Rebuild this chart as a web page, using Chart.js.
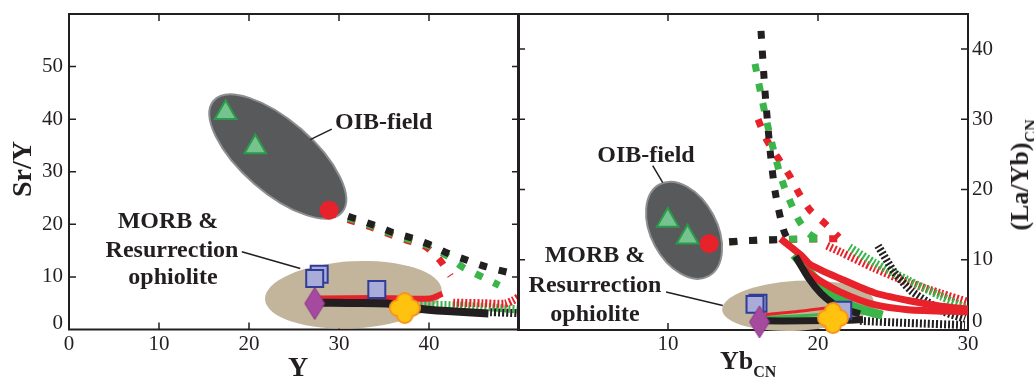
<!DOCTYPE html>
<html>
<head>
<meta charset="utf-8">
<script src="https://cdn.jsdelivr.net/npm/chart.js@4.4.1/dist/chart.umd.min.js"></script>
<style>
  html, body { margin: 0; padding: 0; background: #fff; }
  #wrap { position: relative; width: 1034px; height: 381px; overflow: hidden; background: #fff; }
  canvas { position: absolute; top: 0; }
  #leftChart { left: 0; }
  #rightChart { left: 510px; }
  .lbl { position: absolute; font-family: 'Liberation Serif', 'Times New Roman', serif; font-weight: bold;
         color: #231f20; white-space: nowrap; line-height: 1; }
  .note { font-size: 24px; }
  .ctr { transform: translateX(-50%); }
  .axis { font-size: 28px; }
  .sub { position: relative; top: 8px; font-size: 16px; }
</style>
</head>
<body>
<div id="wrap">
  <canvas id="leftChart" width="530" height="381"></canvas>
  <canvas id="rightChart" width="524" height="381"></canvas>

  <!-- axis titles -->
  <div class="lbl axis" style="left:22px; top:169px; transform: translate(-50%,-50%) rotate(-90deg);">Sr/Y</div>
  <div class="lbl axis ctr" style="left:298px; top:353px;">Y</div>
  <div class="lbl" style="left:720px; top:348px; font-size:26px;">Yb<span class="sub">CN</span></div>
  <div class="lbl" style="left:1020px; top:175px; font-size:26px; transform: translate(-50%,-50%) rotate(-90deg);">(La/Yb)<span class="sub">CN</span></div>

  <!-- field labels, left panel -->
  <div class="lbl note" style="left:335px; top:109px;">OIB-field</div>
  <div class="lbl note ctr" style="left:168px; top:208px;">MORB &amp;</div>
  <div class="lbl note ctr" style="left:172px; top:237px;">Resurrection</div>
  <div class="lbl note ctr" style="left:173px; top:264px;">ophiolite</div>

  <!-- field labels, right panel -->
  <div class="lbl note ctr" style="left:646px; top:142px;">OIB-field</div>
  <div class="lbl note ctr" style="left:595px; top:242px;">MORB &amp;</div>
  <div class="lbl note ctr" style="left:595px; top:272px;">Resurrection</div>
  <div class="lbl note ctr" style="left:595px; top:301px;">ophiolite</div>
</div>

<script>
const FONT = "'Liberation Serif', 'Times New Roman', serif";
const RED = '#e8222a', GREEN = '#39b54a', BLACK = '#231f20';

// ---------- left panel: Sr/Y vs Y ----------
const leftXTicks = [0, 10, 20, 30, 40];
const leftYTicks = [0, 10, 20, 30, 40, 50];
const leftFieldOib = [23.2, 32.9];
const leftFieldMorb = [31.6, 6.6];
const leftLeaderOib = [[26.8, 36.1], [29.2, 38.1]];
const leftLeaderMorb = [[19.2, 14.8], [25.7, 11.6]];

const leftOibTriangles = [[17.4, 41.2], [20.7, 34.7]];
const leftOibCircle = [[28.9, 22.7]];
const leftMorbSquares = [[27.8, 10.5], [27.3, 9.7], [34.2, 7.6]];
const leftMorbDiamond = [[27.3, 4.95]];
const leftMorbCross = [[37.3, 4.1]];

const leftBlackDashed = [[28.9, 22.7], [31.6, 21.2], [33.8, 19.9], [35.9, 18.5], [38.1, 17.4], [40.1, 16.1], [42.1, 14.5], [44.2, 13.2], [46.4, 11.9], [48.7, 10.9], [50, 10.4]];
const leftGreenDashed = [[28.9, 22.5], [31.6, 20.9], [33.8, 19.6], [35.9, 18.2], [38.1, 17.0], [40.1, 15.8], [42.1, 13.9], [43.8, 11.8], [45.9, 10.0], [47.8, 8.4]];
const leftRedDashed = [[28.9, 22.3], [31.2, 20.8], [33.4, 19.6], [35.5, 18.2], [37.5, 17.0], [39.6, 15.8], [41.2, 13.2], [42.4, 10.2]];
const leftBlackSolid = [[27.5, 5.1], [31, 5.05], [35.3, 4.95], [38.6, 4.0], [42, 3.5], [46.6, 3.05]];
const leftRedSolid = [[27.7, 5.9], [34, 6.0], [40.1, 5.9], [41.5, 6.8]];
const leftGreenHatched = [[38.6, 4.7], [43, 4.6], [47, 4.2], [50, 3.8]];
const leftRedHatched = [[42.7, 5.1], [46, 5.0], [48.4, 4.9], [49.3, 5.5], [50, 6.2]];
const leftBlackHatched = [[46.8, 3.3], [50, 3.1]];

// ---------- right panel: (La/Yb)CN vs YbCN ----------
const rightXTicks = [10, 20, 30];
const rightYTicks = [0, 10, 20, 30, 40];
const rightFieldOib = [11.07, 14.2];
const rightFieldMorb = [18.67, 3.45];
const rightLeaderOib = [[8.98, 23.4], [9.65, 21.0]];
const rightLeaderMorb = [[9.87, 5.4], [13.65, 3.5]];

const rightOibTriangles = [[9.98, 15.6], [11.3, 13.2]];
const rightOibCircle = [[12.75, 12.3]];
const rightMorbSquares = [[16.0, 3.8], [15.8, 3.65], [21.65, 2.8]];
const rightMorbDiamond = [[16.1, 1.15]];
const rightMorbCross = [[21.0, 1.7]];

const rightBlackDashedFlat = [[12.75, 12.3], [15.0, 12.7], [18.0, 12.9]];
const rightGreenDashedFlat = [[12.75, 12.3], [16.0, 12.8], [20.0, 13.0]];
const rightRedDashedFlat = [[12.75, 12.3], [16.0, 12.8], [21.4, 13.0]];
const rightBlackDashed = [[16.2, 42.6], [16.47, 33.9], [16.82, 25.3], [17.15, 19.6], [17.71, 14.2], [18.3, 11.6]];
const rightGreenDashed = [[15.8, 37.9], [16.3, 32.5], [16.9, 26.8], [17.6, 21.3], [18.6, 16.1], [19.3, 13.9], [19.9, 13.0]];
const rightRedDashed = [[16.0, 30.0], [16.6, 27.0], [17.3, 24.6], [18.1, 22.0], [18.75, 19.4], [19.5, 17.0], [20.5, 15.1], [21.4, 13.2]];
const rightBlackSolid = [[18.5, 10.5], [19.4, 7.3], [20.2, 5.2], [21.0, 3.8], [21.8, 2.9], [22.8, 2.3]];
const rightBlackFlat = [[16.3, 1.3], [19, 1.3], [22, 1.4], [23, 1.5]];
const rightGreenSolid = [[18.4, 10.7], [19.3, 8.5], [20.2, 6.5], [21.3, 4.6], [22.5, 3.2], [24.3, 2.1]];
const rightRedUpper = [[17.5, 13.0], [18.9, 10.6], [19.5, 9.3], [21.5, 7.3], [23.75, 5.3], [26, 4.2], [28.2, 3.4], [30, 3.0]];
const rightRedLower = [[19.0, 8.8], [20.0, 7.2], [21.5, 5.4], [23.75, 3.6], [26, 2.9], [30, 2.6]];
const rightRedThin = [[16.5, 2.2], [18.5, 2.6], [20.8, 3.2]];
const rightGreenThin = [[16.5, 1.8], [18.5, 2.0], [21, 2.3]];
const rightRedHatched = [[20.6, 12.0], [21.5, 11.1], [23.75, 8.8], [26, 6.8], [28.2, 5.2], [30, 4.0]];
const rightGreenHatched = [[22.1, 11.8], [23.75, 9.6], [26, 7.1], [28.2, 4.8], [30, 3.0]];
const rightBlackHatched = [[24.0, 12.0], [25.1, 8.2], [26.2, 5.6], [27.3, 4.0], [28.4, 2.6], [29.8, 1.6]];
const rightBlackHatchedLow = [[22.8, 1.3], [26, 1.0], [29.8, 0.7]];

// ---------- marker images ----------
function diamondStyle() {
  const c = document.createElement('canvas');
  c.width = 22; c.height = 34;
  const g = c.getContext('2d');
  g.beginPath();
  g.moveTo(11, 1); g.lineTo(21, 17); g.lineTo(11, 33); g.lineTo(1, 17); g.closePath();
  g.fillStyle = '#a54a9f'; g.fill();
  g.strokeStyle = '#8a3787'; g.lineWidth = 1; g.stroke();
  return c;
}

function crossStyle() {
  const c = document.createElement('canvas');
  c.width = 32; c.height = 32;
  const g = c.getContext('2d');
  const rr = (x, y, w, h, r) => {
    g.moveTo(x + r, y);
    g.arcTo(x + w, y, x + w, y + h, r);
    g.arcTo(x + w, y + h, x, y + h, r);
    g.arcTo(x, y + h, x, y, r);
    g.arcTo(x, y, x + w, y, r);
    g.closePath();
  };
  const shape = () => { g.beginPath(); rr(9, 2, 14, 28, 7); rr(2, 9, 28, 14, 7); };
  shape(); g.strokeStyle = '#f7941d'; g.lineWidth = 4; g.stroke();
  shape(); g.fillStyle = '#ffc20e'; g.fill();
  return c;
}

const DIAMOND = diamondStyle();
const CROSS = crossStyle();

// ---------- dataset helpers ----------
const pts = arr => arr.map(p => ({ x: p[0], y: p[1] }));

function line(arr, color, width, dash, order) {
  return {
    data: pts(arr), showLine: true, pointRadius: 0, fill: false, tension: 0.25,
    borderColor: color, borderWidth: width, borderDash: dash, borderCapStyle: 'butt',
    borderJoinStyle: 'round', order: order
  };
}
const dashed = (arr, color, order) => line(arr, color, 7, [8, 12], order);
const hatched = (arr, color, order) => line(arr, color, 8, [2, 2], order);
const solid = (arr, color, width, order) => line(arr, color, width, [], order);

function marks(arr, style) {
  return Object.assign({ data: pts(arr), showLine: false, clip: false, order: 0 }, style);
}
const triStyle = { pointStyle: 'triangle', pointRadius: 12.5, pointBackgroundColor: '#77c38f', pointBorderColor: '#2b9b4b', pointBorderWidth: 2 };
const circStyle = { pointStyle: 'circle', pointRadius: 9.5, pointBackgroundColor: RED, pointBorderColor: RED, pointBorderWidth: 0 };
const sqStyle = { pointStyle: 'rect', pointRadius: 12, pointBackgroundColor: '#a9abd9', pointBorderColor: '#2f3d98', pointBorderWidth: 2 };
const diaStyle = { pointStyle: DIAMOND, pointRadius: 16 };
const crossMark = { pointStyle: CROSS, pointRadius: 16 };

// ---------- plugins ----------
const fieldPlugin = {
  id: 'fields',
  beforeDatasetsDraw(chart, args, opts) {
    const { ctx, scales: { x, y } } = chart;
    ctx.save();
    (opts.fields || []).forEach(f => {
      ctx.beginPath();
      ctx.ellipse(x.getPixelForValue(f.at[0]), y.getPixelForValue(f.at[1]), f.rx, f.ry, f.rot * Math.PI / 180, 0, Math.PI * 2);
      ctx.fillStyle = f.fill;
      ctx.fill();
      if (f.stroke) { ctx.lineWidth = 2; ctx.strokeStyle = f.stroke; ctx.stroke(); }
    });
    ctx.strokeStyle = BLACK;
    ctx.lineWidth = 1.5;
    (opts.leaders || []).forEach(l => {
      ctx.beginPath();
      ctx.moveTo(x.getPixelForValue(l[0][0]), y.getPixelForValue(l[0][1]));
      ctx.lineTo(x.getPixelForValue(l[1][0]), y.getPixelForValue(l[1][1]));
      ctx.stroke();
    });
    ctx.restore();
  }
};

const framePlugin = {
  id: 'frame',
  beforeDatasetsDraw(chart) {
    const { ctx, chartArea: a, scales: { x, y } } = chart;
    ctx.save();
    ctx.strokeStyle = BLACK;
    ctx.lineWidth = 2;
    ctx.strokeRect(a.left, a.top, a.right - a.left, a.bottom - a.top);
    ctx.lineWidth = 1.5;
    ctx.beginPath();
    x.ticks.forEach(t => {
      if (t.value <= x.min || t.value >= x.max) return;
      const px = x.getPixelForValue(t.value);
      ctx.moveTo(px, a.bottom); ctx.lineTo(px, a.bottom - 7);
      ctx.moveTo(px, a.top); ctx.lineTo(px, a.top + 7);
    });
    y.ticks.forEach(t => {
      if (t.value <= y.min || t.value >= y.max) return;
      const py = y.getPixelForValue(t.value);
      ctx.moveTo(a.left, py); ctx.lineTo(a.left + 7, py);
      ctx.moveTo(a.right, py); ctx.lineTo(a.right - 7, py);
    });
    ctx.stroke();
    ctx.restore();
  }
};

function tickFont(zeroLine) {
  return c => ({ family: FONT, size: 21, lineHeight: (c.tick && c.tick.value === 0) ? zeroLine : 1.2 });
}

// fixed box size, and no extra padding for labels at the ends
function fixBox(key, size) {
  return s => {
    s[key] = size;
    s.paddingLeft = s.paddingRight = s.paddingTop = s.paddingBottom = 0;
  };
}

function axis(min, max, shown, extra) {
  return Object.assign({
    type: 'linear', min: min, max: max,
    grid: { display: false, drawTicks: false },
    border: { display: false },
    ticks: {
      stepSize: 10, autoSkip: false, maxRotation: 0, color: BLACK,
      font: { family: FONT, size: 21 },
      callback: v => shown.includes(v) ? String(v) : null
    }
  }, extra);
}

const baseOptions = {
  responsive: false,
  animation: false,
  events: [],
  plugins: { legend: { display: false }, tooltip: { enabled: false } }
};

// ---------- left chart ----------
const leftX = axis(0, 50, leftXTicks, { afterFit: fixBox('height', 51.5) });
leftX.ticks.padding = 2;
const leftY = axis(0, 60, leftYTicks, { afterFit: fixBox('width', 69) });
leftY.ticks.padding = 6;
leftY.ticks.font = tickFont(0.6);
leftY.ticks.callback = v => !leftYTicks.includes(v) ? null : (v === 0 ? ['0', ''] : String(v));

new Chart(document.getElementById('leftChart'), {
  type: 'scatter',
  data: {
    datasets: [
      marks(leftMorbCross, crossMark),
      marks(leftMorbDiamond, diaStyle),
      marks(leftMorbSquares, sqStyle),
      marks(leftOibCircle, circStyle),
      marks(leftOibTriangles, triStyle),
      solid(leftBlackSolid, BLACK, 8, 1),
      solid(leftRedSolid, RED, 6, 2),
      hatched(leftBlackHatched, BLACK, 4),
      hatched(leftRedHatched, RED, 5),
      hatched(leftGreenHatched, GREEN, 6),
      dashed(leftBlackDashed, BLACK, 7),
      dashed(leftGreenDashed, GREEN, 8),
      dashed(leftRedDashed, RED, 9)
    ]
  },
  options: Object.assign({}, baseOptions, {
    layout: { autoPadding: false, padding: { top: 14, right: 11, left: 0, bottom: 0 } },
    scales: { x: leftX, y: leftY },
    plugins: Object.assign({}, baseOptions.plugins, {
      fields: {
        fields: [
          { at: leftFieldMorb, rx: 88.5, ry: 33.5, rot: -3, fill: '#c3b59b' },
          { at: leftFieldOib, rx: 85, ry: 36, rot: 41, fill: '#58595b', stroke: '#8d8e90' }
        ],
        leaders: [leftLeaderOib, leftLeaderMorb]
      }
    })
  }),
  plugins: [framePlugin, fieldPlugin]
});

// ---------- right chart ----------
const rightX = axis(0, 30, rightXTicks, { afterFit: fixBox('height', 51) });
rightX.ticks.padding = 2;
const rightY = axis(0, 45, rightYTicks, { position: 'right', afterFit: fixBox('width', 66) });
rightY.ticks.padding = 4;
rightY.ticks.font = tickFont(0.8);
rightY.ticks.callback = v => !rightYTicks.includes(v) ? null : (v === 0 ? ['0', ''] : String(v));

new Chart(document.getElementById('rightChart'), {
  type: 'scatter',
  data: {
    datasets: [
      marks(rightMorbCross, crossMark),
      marks(rightMorbDiamond, diaStyle),
      marks(rightMorbSquares, sqStyle),
      marks(rightOibCircle, circStyle),
      marks(rightOibTriangles, triStyle),
      solid(rightBlackFlat, BLACK, 7, 1),
      solid(rightBlackSolid, BLACK, 7, 1.2),
      solid(rightRedThin, RED, 3, 1.5),
      solid(rightGreenThin, GREEN, 3, 1.6),
      solid(rightRedUpper, RED, 7, 2),
      solid(rightRedLower, RED, 7, 2.1),
      solid(rightGreenSolid, GREEN, 9, 2.2),
      dashed(rightBlackDashed, BLACK, 3),
      dashed(rightBlackDashedFlat, BLACK, 3.1),
      dashed(rightGreenDashed, GREEN, 3.5),
      dashed(rightGreenDashedFlat, GREEN, 3.6),
      dashed(rightRedDashed, RED, 3.8),
      dashed(rightRedDashedFlat, RED, 3.9),
      hatched(rightBlackHatched, BLACK, 4),
      hatched(rightGreenHatched, GREEN, 4.5),
      hatched(rightRedHatched, RED, 5),
      hatched(rightBlackHatchedLow, BLACK, 6)
    ]
  },
  options: Object.assign({}, baseOptions, {
    layout: { autoPadding: false, padding: { top: 14, right: 0, left: 8, bottom: 0 } },
    scales: { x: rightX, y: rightY },
    plugins: Object.assign({}, baseOptions.plugins, {
      fields: {
        fields: [
          { at: rightFieldMorb, rx: 76, ry: 25, rot: -3, fill: '#c3b59b' },
          { at: rightFieldOib, rx: 52, ry: 33, rot: 62, fill: '#58595b', stroke: '#8d8e90' }
        ],
        leaders: [rightLeaderOib, rightLeaderMorb]
      }
    })
  }),
  plugins: [framePlugin, fieldPlugin]
});
</script>
</body>
</html>
